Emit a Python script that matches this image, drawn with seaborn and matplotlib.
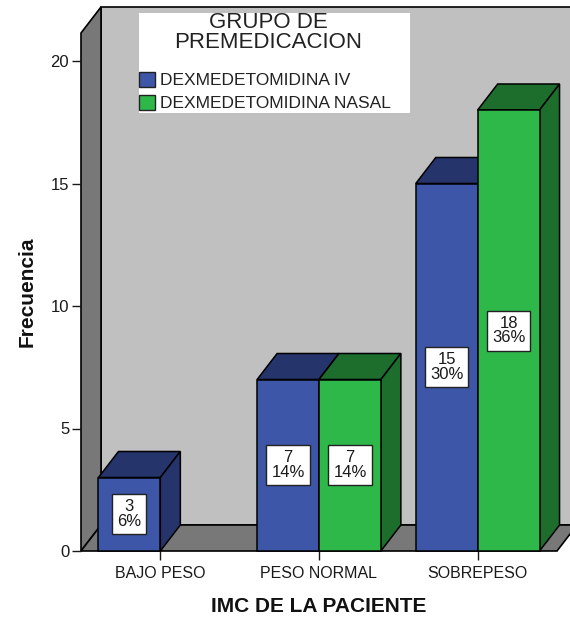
import matplotlib
matplotlib.use("Agg")
import matplotlib.pyplot as plt
from matplotlib.patches import Polygon, Rectangle, Patch
import pandas as pd
import seaborn as sns

# Data
categories = ["BAJO PESO", "PESO NORMAL", "SOBREPESO"]
groups = ["DEXMEDETOMIDINA IV", "DEXMEDETOMIDINA NASAL"]
iv_counts = [3, 7, 15]
nasal_counts = [0, 7, 18]
y_ticks = [0, 5, 10, 15, 20]

legend_title = "GRUPO DE\nPREMEDICACION"
x_label = "IMC DE LA PACIENTE"
y_label = "Frecuencia"

front_colors = ["#3d56a7", "#2eb84a"]
dark_colors = ["#26346c", "#1d6d2d"]
wall_gray = "#787878"
back_gray = "#c0c0c0"

df = pd.DataFrame({
    "imc": categories * 2,
    "grupo": [groups[0]] * 3 + [groups[1]] * 3,
    "n": iv_counts + nasal_counts,
})
total = df["n"].sum()

sns.set_theme(style="white")
plt.rcParams["font.family"] = ["Liberation Sans", "DejaVu Sans"]

fig = plt.figure(figsize=(5.7, 6.2), dpi=100)
W, H = 570, 620
ax = fig.add_axes([81 / W, (H - 551) / H, 476 / W, 518 / H])
ax.patch.set_visible(False)

sns.barplot(data=df, x="imc", y="n", hue="grupo", palette=front_colors,
            saturation=1, width=0.78, edgecolor="black", linewidth=1.1,
            legend=False, ax=ax)

YTOP = 518 / 24.5
ax.set_xlim(-0.5, 2.5)
ax.set_ylim(0, YTOP)
for s in ax.spines.values():
    s.set_visible(False)

# depth offsets of the pseudo-3D box (data units)
DX = 20 / (476 / 3)
DY = 26 / 24.5

# back wall, left wall and floor
ax.add_patch(Polygon([(-0.5 + DX, DY), (2.5 + DX, DY), (2.5 + DX, YTOP + DY),
                      (-0.5 + DX, YTOP + DY)], closed=True, facecolor=back_gray,
                     edgecolor="black", lw=1.2, zorder=0.3, clip_on=False))
ax.add_patch(Polygon([(-0.5, 0), (-0.5, YTOP), (-0.5 + DX, YTOP + DY),
                      (-0.5 + DX, DY)], closed=True, facecolor=wall_gray,
                     edgecolor="black", lw=1.2, zorder=0.4, clip_on=False))
ax.add_patch(Polygon([(-0.5, 0), (2.5, 0), (2.5 + DX, DY), (-0.5 + DX, DY)],
                     closed=True, facecolor=wall_gray, edgecolor="black",
                     lw=1.2, zorder=0.5, clip_on=False))

# top and side faces for each bar, painted left to right
bars = sorted([p for p in ax.patches if isinstance(p, Rectangle) and p.get_zorder() >= 0.9],
              key=lambda p: p.get_x())
for i, bar in enumerate(bars):
    h = bar.get_height()
    if h <= 0:
        bar.set_visible(False)
        continue
    x0, w = bar.get_x(), bar.get_width()
    x1 = x0 + w
    fc = bar.get_facecolor()
    idx = 0 if abs(fc[2] - matplotlib.colors.to_rgba(front_colors[0])[2]) < 0.05 else 1
    dark = dark_colors[idx]
    z = 2 + i * 0.1
    bar.set_zorder(z + 0.05)
    bar.set_clip_on(False)
    ax.add_patch(Polygon([(x0, h), (x1, h), (x1 + DX, h + DY), (x0 + DX, h + DY)],
                         closed=True, facecolor=dark, edgecolor="black", lw=1.1,
                         zorder=z, clip_on=False))
    ax.add_patch(Polygon([(x1, 0), (x1, h), (x1 + DX, h + DY), (x1 + DX, DY)],
                         closed=True, facecolor=dark, edgecolor="black", lw=1.1,
                         zorder=z, clip_on=False))
    pct = 100 * h / total
    ax.text(x0 + w / 2, h / 2, f"{int(h)}\n{pct:.0f}%", ha="center", va="center",
            multialignment="center", fontsize=12, color="#1a1a1a", linespacing=1.0,
            zorder=10,
            bbox=dict(boxstyle="square,pad=0.3", facecolor="white",
                      edgecolor="#222222", lw=1))

ax.set_yticks(y_ticks)
ax.set_yticklabels([str(t) for t in y_ticks])
ax.tick_params(axis="y", left=True, length=6.5, width=1, pad=2, labelsize=12,
               colors="#1a1a1a")
ax.tick_params(axis="x", bottom=True, length=6.5, width=1, pad=4, labelsize=11.5,
               colors="#1a1a1a")
ax.set_xlabel(x_label, fontsize=15, fontweight="bold", labelpad=12, color="#111111")
ax.set_ylabel(y_label, fontsize=15, fontweight="bold", labelpad=10, color="#111111")

# legend panel
fig.add_artist(Rectangle((139 / W, 1 - 113 / H), 271 / W, 100 / H,
                         transform=fig.transFigure, facecolor="white",
                         edgecolor="none", zorder=5))
fig.text(268 / W, 1 - 12 / H, legend_title, ha="center", va="top",
         multialignment="center", fontsize=16, linespacing=0.95,
         color="#222222", zorder=6)
handles = [Patch(facecolor=c, edgecolor="#222222", lw=1) for c in front_colors]
leg = fig.legend(handles, groups, loc="upper left",
                 bbox_to_anchor=(139 / W, 1 - 72 / H), bbox_transform=fig.transFigure,
                 frameon=False, fontsize=12.5, handlelength=0.95, handleheight=0.95,
                 handletextpad=0.25, labelspacing=0.35, borderpad=0, borderaxespad=0)
leg.set_zorder(6)
for t in leg.get_texts():
    t.set_color("#222222")

fig.savefig("out.png", dpi=100, facecolor="white")
